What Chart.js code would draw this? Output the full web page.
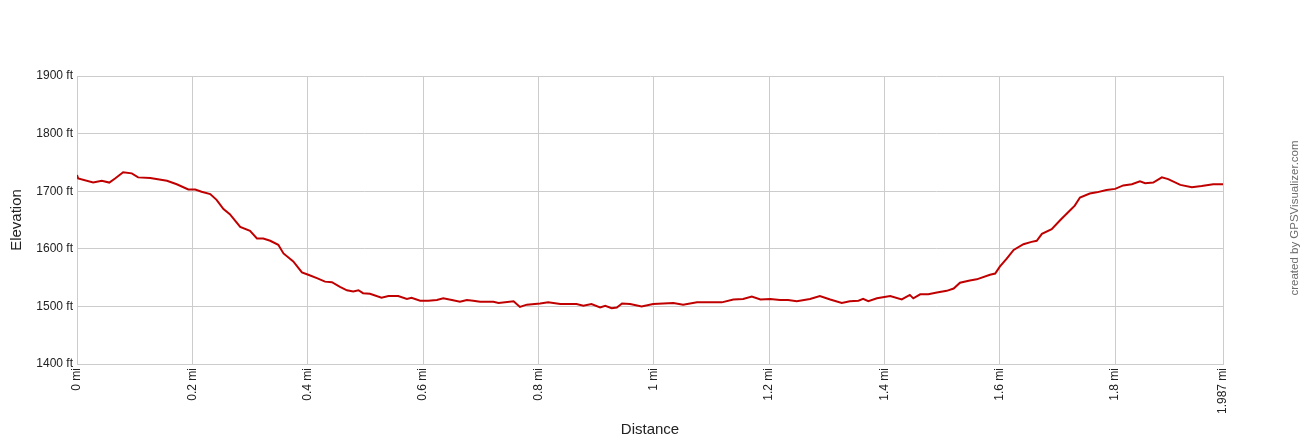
<!DOCTYPE html>
<html>
<head>
<meta charset="utf-8">
<script src="https://cdn.jsdelivr.net/npm/chart.js@4/dist/chart.umd.min.js"></script>
<style>
  html, body { margin: 0; padding: 0; background: #fff; }
  #wrap { width: 1300px; height: 440px; position: relative; }
</style>
</head>
<body>
<div id="wrap"><canvas id="myChart" width="1300" height="440"></canvas></div>
<script>
// distance along the track (mi) and elevation (ft)
let distance = [
  0, 0.002, 0.028, 0.043, 0.056, 0.066, 0.080, 0.095, 0.106, 0.127,
  0.156, 0.173, 0.193, 0.205, 0.216, 0.231, 0.242, 0.254, 0.265, 0.283,
  0.300, 0.312, 0.323, 0.335, 0.349, 0.358, 0.375, 0.390, 0.401, 0.416,
  0.430, 0.442, 0.456, 0.468, 0.479, 0.488, 0.496, 0.508, 0.528, 0.540,
  0.557, 0.572, 0.580, 0.595, 0.609, 0.624, 0.635, 0.650, 0.664, 0.676,
  0.687, 0.699, 0.722, 0.731, 0.757, 0.768, 0.780, 0.803, 0.817, 0.838,
  0.866, 0.878, 0.892, 0.907, 0.916, 0.927, 0.936, 0.945, 0.959, 0.979,
  0.999, 1.034, 1.051, 1.075, 1.098, 1.118, 1.138, 1.155, 1.170, 1.185,
  1.202, 1.219, 1.233, 1.248, 1.271, 1.288, 1.306, 1.326, 1.340, 1.355,
  1.363, 1.372, 1.387, 1.410, 1.430, 1.444, 1.450, 1.462, 1.476, 1.491,
  1.508, 1.520, 1.531, 1.548, 1.560, 1.583, 1.592, 1.600, 1.612, 1.624,
  1.641, 1.655, 1.664, 1.673, 1.690, 1.705, 1.722, 1.730, 1.739, 1.756,
  1.768, 1.785, 1.800, 1.814, 1.829, 1.843, 1.852, 1.866, 1.881, 1.892,
  1.913, 1.933, 1.950, 1.970, 1.987
];
let elevation = [
  1728, 1722, 1715, 1718, 1715, 1722, 1733, 1731, 1724, 1723,
  1718, 1712, 1703, 1703, 1699, 1695, 1685, 1669, 1660, 1638,
  1631, 1618, 1618, 1614, 1607, 1592, 1578, 1559, 1555, 1549,
  1543, 1542, 1534, 1528, 1526, 1528, 1523, 1522, 1515, 1518,
  1518, 1513, 1515, 1510, 1510, 1511, 1514, 1511, 1508, 1511,
  1510, 1508, 1508, 1506, 1509, 1499, 1503, 1505, 1507, 1504,
  1504, 1501, 1504, 1498, 1501, 1497, 1498, 1505, 1504, 1500,
  1504, 1506, 1503, 1507, 1507, 1507, 1512, 1513, 1517, 1512,
  1513, 1511, 1511, 1509, 1513, 1518, 1512, 1506, 1509, 1510,
  1513, 1509, 1514, 1518, 1512, 1520, 1514, 1521, 1521, 1524,
  1527, 1531, 1541, 1545, 1547, 1555, 1557, 1569, 1583, 1598,
  1608, 1612, 1614, 1626, 1634, 1650, 1667, 1675, 1689, 1696,
  1698, 1702, 1704, 1710, 1712, 1717, 1714, 1715, 1724, 1721,
  1711, 1707, 1709, 1712, 1712
];
let distanceTicks = [0, 0.2, 0.4, 0.6, 0.8, 1, 1.2, 1.4, 1.6, 1.8, 1.987];
let elevationTicks = [1400, 1500, 1600, 1700, 1800, 1900];

let points = distance.map(function(d, i){ return {x: d, y: elevation[i]}; });

const watermark = {
  id: "watermark",
  afterDraw(chart){
    const c = chart.ctx;
    c.save();
    c.translate(1295, 218);
    c.rotate(-Math.PI/2);
    c.font = "11.5px 'Liberation Sans', Arial, sans-serif";
    c.fillStyle = "#6e6e6e";
    c.textAlign = "center";
    c.textBaseline = "middle";
    c.fillText("created by GPSVisualizer.com", 0, 0);
    c.restore();
  }
};

Chart.defaults.font.family = "'Liberation Sans', Arial, sans-serif";

const config = {
  type: "line",
  data: {
    datasets: [{
      label: "Elevation",
      data: points,
      borderColor: "#c00000",
      borderWidth: 2,
      pointRadius: 0,
      tension: 0
    }]
  },
  options: {
    responsive: false,
    animation: false,
    layout: { padding: { left: 0, right: 77, top: 76, bottom: 0 } },
    plugins: { legend: { display: false }, tooltip: { enabled: false } },
    scales: {
      x: {
        type: "linear",
        min: 0,
        max: 1.987,
        afterBuildTicks: function(scale){
          scale.ticks = distanceTicks.map(function(v){ return {value: v}; });
        },
        afterFit: function(scale){ scale.height = 76; },
        ticks: {
          autoSkip: false,
          maxRotation: 90,
          minRotation: 90,
          padding: 4,
          color: "#222",
          font: { size: 12 },
          callback: function(value){ return value + " mi"; }
        },
        grid: { color: "#cccccc", drawTicks: false },
        border: { color: "#cccccc" },
        title: {
          display: true,
          text: "Distance",
          color: "#222",
          font: { size: 15 },
          padding: { top: 4, bottom: 1 }
        }
      },
      y: {
        min: 1400,
        max: 1900,
        afterBuildTicks: function(scale){
          scale.ticks = elevationTicks.map(function(v){ return {value: v}; });
        },
        afterFit: function(scale){ scale.width = 77; },
        ticks: {
          padding: 4,
          color: "#222",
          font: { size: 12 },
          callback: function(value){ return value + " ft"; }
        },
        grid: { color: "#cccccc", drawTicks: false },
        border: { color: "#cccccc" },
        title: {
          display: true,
          text: "Elevation",
          color: "#222",
          font: { size: 15 },
          padding: { top: 8, bottom: 0 }
        }
      }
    }
  },
  plugins: [watermark]
};

const ctx = document.getElementById("myChart").getContext("2d");
let myChart = new Chart(ctx, config);
</script>
</body>
</html>
